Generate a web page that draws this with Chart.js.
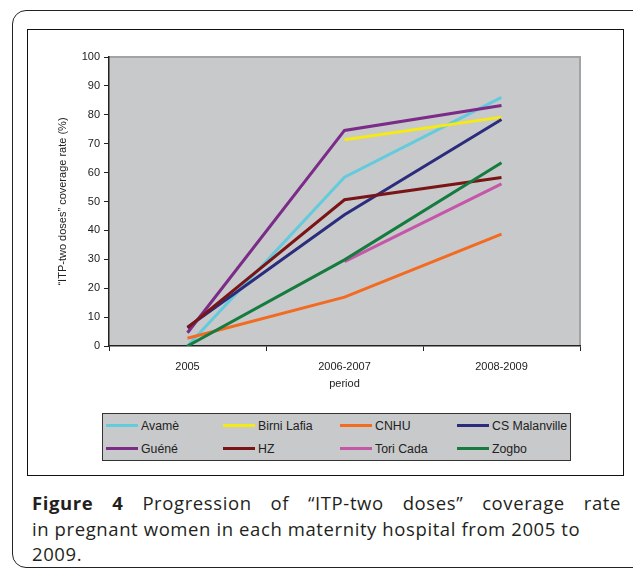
<!DOCTYPE html>
<html lang="en">
<head>
    <meta charset="UTF-8">
    <title>ITP-two doses coverage rate</title>
    <script src="https://cdn.jsdelivr.net/npm/chart.js"></script>
    <style>
        body { margin: 0; width: 633px; height: 573px; background: #fff; position: relative; overflow: hidden; }
        .frame {
            position: absolute; left: 12px; top: 10px; width: 640px; height: 556px;
            border: 1.5px solid #222; border-radius: 14px;
        }
        .box {
            position: absolute; left: 27px; top: 29px; width: 595px; height: 445px;
            border: 1px solid #111;
        }
        .chart-wrap { position: absolute; left: 28px; top: 30px; width: 594px; height: 380px; }
        .legend {
            position: absolute; left: 102px; top: 413px; width: 467px; height: 46px;
            background: #c8c9cb; border: 1.5px solid #333;
            display: grid; grid-template-columns: repeat(4, 117px); grid-auto-rows: 23px;
            font-family: "Liberation Sans", Arial, sans-serif; font-size: 12.3px; color: #222;
        }
        .legend .item { display: flex; align-items: center; padding-left: 3px; }
        .legend .swatch { width: 32px; height: 3px; margin-right: 3px; }
        .caption {
            position: absolute; left: 32px; top: 490px; width: 589px;
            font-family: "Open Sans", sans-serif; font-size: 18.5px; letter-spacing: 0.6px;
            line-height: 25.5px; color: #231f20;
        }
        .caption .just { text-align: justify; text-align-last: justify; }
    </style>
</head>
<body>
    <div class="frame"></div>
    <div class="box"></div>
    <div class="chart-wrap"><canvas id="coverageChart"></canvas></div>
    <div class="legend" id="legend"></div>
    <div class="caption">
        <div class="just"><b>Figure 4</b> Progression of “ITP-two doses” coverage rate</div>
        <div>in pregnant women in each maternity hospital from 2005 to</div>
        <div>2009.</div>
    </div>

    <script>
        // periods on the x axis
        const periods = ['2005', '2006-2007', '2008-2009'];

        // coverage rate (%) per maternity hospital
        const avame = [0, 58.4, 86.0];
        const birniLafia = [null, 71.4, 79.2];
        const cnhu = [2.7, 16.9, 38.7];
        const csMalanville = [6.5, 45.4, 78.4];
        const guene = [4.6, 74.6, 83.2];
        const hz = [6.3, 50.6, 58.3];
        const toriCada = [null, 29.2, 56.1];
        const zogbo = [0, 29.8, 63.4];

        const hospitals = ['Avamè', 'Birni Lafia', 'CNHU', 'CS Malanville', 'Guéné', 'HZ', 'Tori Cada', 'Zogbo'];
        const values = [avame, birniLafia, cnhu, csMalanville, guene, hz, toriCada, zogbo];
        const colors = ['#63cbdc', '#f5ea14', '#f36b21', '#2b2c7c', '#7b2b88', '#7a1517', '#c556a8', '#157b3f'];

        const yTicks = [0, 10, 20, 30, 40, 50, 60, 70, 80, 90, 100];

        // grey plot background, lighter border on top/right like Excel
        const plotBg = {
            id: 'plotBg',
            beforeDraw(chart) {
                const a = chart.chartArea, ctx = chart.ctx;
                ctx.save();
                ctx.fillStyle = '#c8c9cb';
                ctx.fillRect(a.left, a.top, a.right - a.left, a.bottom - a.top);
                ctx.strokeStyle = '#a2a3a5';
                ctx.lineWidth = 2;
                ctx.beginPath();
                ctx.moveTo(a.left, a.top);
                ctx.lineTo(a.right, a.top);
                ctx.lineTo(a.right, a.bottom);
                ctx.stroke();
                ctx.restore();
            }
        };

        const font = { family: '"Liberation Sans", Arial, sans-serif', size: 11 };

        new Chart(document.getElementById('coverageChart'), {
            type: 'line',
            data: {
                labels: periods,
                datasets: hospitals.map((h, i) => ({
                    label: h,
                    data: values[i],
                    borderColor: colors[i],
                    backgroundColor: colors[i],
                    borderWidth: 3,
                    pointRadius: 0,
                    tension: 0,
                    order: hospitals.length - i
                }))
            },
            options: {
                responsive: true,
                maintainAspectRatio: false,
                animation: false,
                layout: { padding: { top: 27, right: 42, left: 0, bottom: 0 } },
                plugins: { legend: { display: false }, tooltip: { enabled: false } },
                scales: {
                    x: {
                        offset: true,
                        grid: { offset: true, drawOnChartArea: false, drawTicks: true, tickLength: 5, color: '#222' },
                        border: { display: true, color: '#222', width: 1.5 },
                        ticks: { font: font, color: '#222', padding: 9, maxRotation: 0 },
                        title: { display: true, text: 'period', font: font, color: '#222', padding: { top: 4, bottom: 19 } },
                        afterFit(scale) { scale.height = 64; }
                    },
                    y: {
                        min: 0,
                        max: 100,
                        afterBuildTicks(scale) { scale.ticks = yTicks.map(v => ({ value: v })); },
                        grid: { drawOnChartArea: false, drawTicks: true, tickLength: 5, color: '#222' },
                        border: { display: true, color: '#222', width: 1.5 },
                        ticks: { font: font, color: '#222', padding: 4 },
                        title: { display: true, text: '“ITP-two doses” coverage rate (%)', font: font, color: '#222', padding: { top: 28 } },
                        afterFit(scale) { scale.width = 81; }
                    }
                }
            },
            plugins: [plotBg]
        });

        // legend laid out as 4 columns like the original
        const legend = document.getElementById('legend');
        hospitals.forEach((h, i) => {
            const item = document.createElement('div');
            item.className = 'item';
            item.innerHTML = '<span class="swatch" style="background:' + colors[i] + '"></span>' + h;
            legend.appendChild(item);
        });
    </script>
</body>
</html>
